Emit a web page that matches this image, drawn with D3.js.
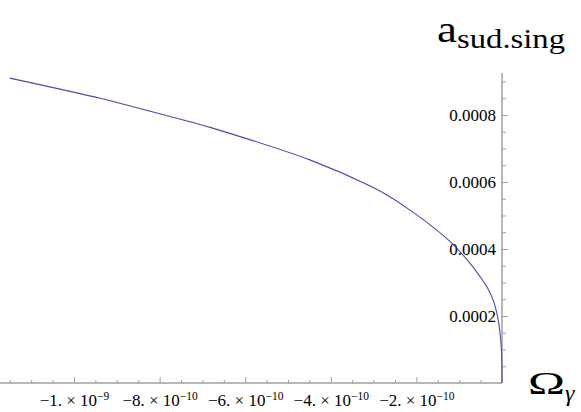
<!DOCTYPE html>
<html>
<head>
<meta charset="utf-8">
<script src="https://d3js.org/d3.v7.min.js"></script>
<style>
  html, body { margin: 0; padding: 0; background: #fff; }
  svg { display: block; }
</style>
</head>
<body>
<svg id="chart" width="581" height="412"></svg>
<script>
// Data
const omegaValues = [-1.15e-9, -9.39e-10, -8.93e-10, -7.29e-10, -6.82e-10, -4.49e-10,
  -3.08e-10, -2.62e-10, -2.15e-10, -1.68e-10, -1.21e-10, -7.5e-11, -5.1e-11, -3.4e-11, -2.0e-11,
  -1.3e-11, -8.6e-12, -4.7e-12, -2.0e-12, -7e-13, -1.5e-13, 0];
const aValues = [0.000910, 0.000850, 0.000835, 0.000780, 0.000763, 0.000666,
  0.000588, 0.000556, 0.000516, 0.000472, 0.000422, 0.000358, 0.000317, 0.000284, 0.000245,
  0.000214, 0.000186, 0.000150, 0.000112, 0.000080, 0.000046, 0];
const xMajorTicks = [-1e-9, -8e-10, -6e-10, -4e-10, -2e-10];
const xMajorLabels = [["\u22121. \u00d7 10", "\u22129"], ["\u22128. \u00d7 10", "\u221210"],
  ["\u22126. \u00d7 10", "\u221210"], ["\u22124. \u00d7 10", "\u221210"], ["\u22122. \u00d7 10", "\u221210"]];
const xMinorTicks = [-1.15e-9, -1.1e-9, -1.05e-9, -9.5e-10, -9e-10, -8.5e-10, -7.5e-10, -7e-10, -6.5e-10,
  -5.5e-10, -5e-10, -4.5e-10, -3.5e-10, -3e-10, -2.5e-10, -1.5e-10, -1e-10, -5e-11];
const yMajorTicks = [0.0002, 0.0004, 0.0006, 0.0008];
const yMajorLabels = ["0.0002", "0.0004", "0.0006", "0.0008"];
const yMinorTicks = [0.00005, 0.0001, 0.00015, 0.00025, 0.0003, 0.00035, 0.00045, 0.0005, 0.00055,
  0.00065, 0.0007, 0.00075, 0.00085, 0.0009];

const FONT = '"Liberation Serif", "Times New Roman", serif';
const svg = d3.select("#chart");
const x = d3.scaleLinear().domain([-1.1729e-9, 0]).range([0, 502]);
const y = d3.scaleLinear().domain([0, 0.000925]).range([383, 73.1]);

const axisColor = "#a0a0a0";

// X axis
const gx = svg.append("g").attr("transform", `translate(0,${y(0)})`);
gx.call(d3.axisBottom(x).tickValues(xMinorTicks).tickSize(-3).tickSizeOuter(0).tickFormat(""));
const gxMaj = svg.append("g").attr("transform", `translate(0,${y(0)})`);
gxMaj.call(d3.axisBottom(x).tickValues(xMajorTicks).tickSize(-6).tickSizeOuter(0).tickFormat(""));
gxMaj.selectAll(".tick text").each(function(d, i) {
  const t = d3.select(this);
  t.text(null)
    .attr("y", 23).attr("dy", null)
    .style("font-family", FONT).style("font-size", "17px").style("fill", "#000");
  t.append("tspan").text(xMajorLabels[i][0]);
  t.append("tspan").style("font-size", "11.5px").attr("dy", -6).text(xMajorLabels[i][1]);
});
[gx, gxMaj].forEach(g => {
  g.select(".domain").attr("stroke", axisColor).attr("d", `M${x.range()[0]},0H${x.range()[1]}`);
  g.selectAll(".tick line").attr("stroke", axisColor);
});

// Y axis
const gy = svg.append("g").attr("transform", `translate(${x(0)},0)`);
gy.call(d3.axisRight(y).tickValues(yMinorTicks).tickSize(4).tickSizeOuter(0).tickFormat(""));
const gyMaj = svg.append("g").attr("transform", `translate(${x(0)},0)`);
gyMaj.call(d3.axisRight(y).tickValues(yMajorTicks).tickSize(6).tickSizeOuter(0).tickFormat(""));
const gyLab = svg.append("g").attr("transform", `translate(${x(0)},0)`);
gyLab.call(d3.axisLeft(y).tickValues(yMajorTicks).tickSize(0).tickPadding(6)
  .tickFormat((d, i) => yMajorLabels[i]));
gyLab.select(".domain").remove();
gyLab.selectAll(".tick text")
  .style("font-family", FONT).style("font-size", "17px").style("fill", "#000");
[gy, gyMaj].forEach(g => {
  g.select(".domain").attr("stroke", axisColor).attr("d", `M0,${y.range()[0]}V${y.range()[1]}`);
  g.selectAll(".tick line").attr("stroke", axisColor);
});

// Curve
const pts = omegaValues.map((o, i) => [o, aValues[i]]);
svg.append("path")
  .datum(pts)
  .attr("fill", "none")
  .attr("stroke", "#4a4aab")
  .attr("stroke-width", 1.1)
  .attr("d", d3.line().x(d => x(d[0])).y(d => y(d[1])).curve(d3.curveCatmullRom.alpha(0.5)));

// Axis titles
svg.append("text").attr("x", 437).attr("y", 42)
  .style("font-family", FONT).style("font-size", "38px")
  .attr("textLength", 20).attr("lengthAdjust", "spacingAndGlyphs").text("a");
svg.append("text").attr("x", 457).attr("y", 48)
  .style("font-family", FONT).style("font-size", "28px")
  .attr("textLength", 108).attr("lengthAdjust", "spacingAndGlyphs").text("sud.sing");
svg.append("text").attr("x", 528).attr("y", 394)
  .style("font-family", FONT).style("font-size", "32px")
  .attr("textLength", 37).attr("lengthAdjust", "spacingAndGlyphs").text("\u03a9");
svg.append("text").attr("x", 565).attr("y", 401)
  .style("font-family", FONT).style("font-size", "24px").style("font-style", "italic")
  .text("\u03b3");
</script>
</body>
</html>
